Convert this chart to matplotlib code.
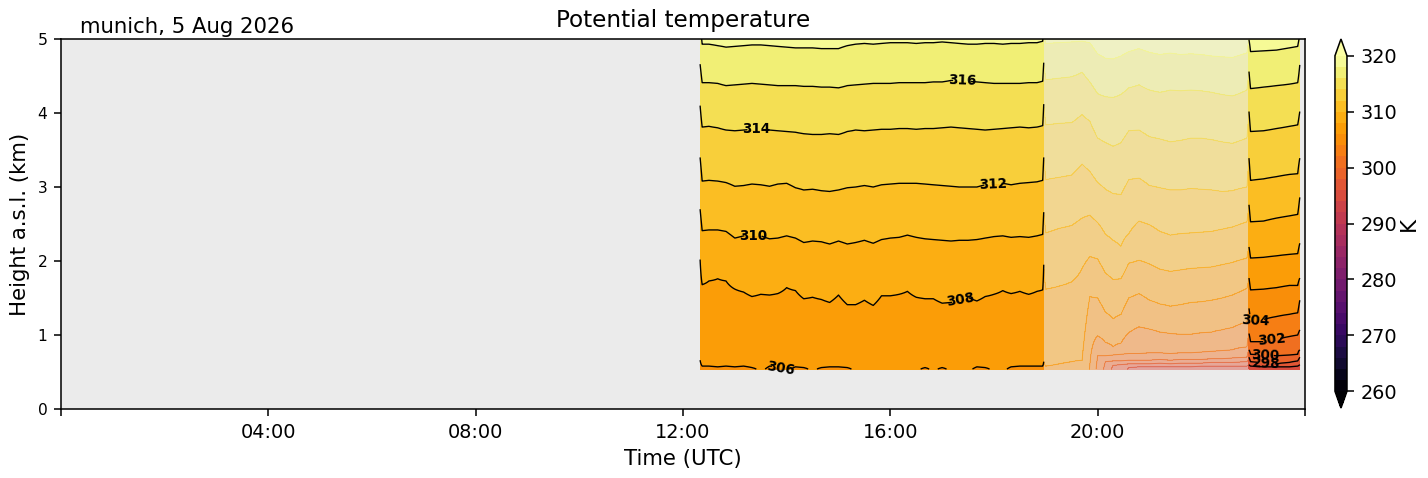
import numpy as np
import matplotlib
matplotlib.use('Agg')
import matplotlib.pyplot as plt

# --- data ----------------------------------------------------------------
# heights (km a.s.l.) of the isentropes, per time column (hours UTC)
# None = isentrope lies below the lowest range gate

z_bottom = 0.54

# daytime segment (good data)
day_times = [12.33, 12.37, 12.50, 12.67, 12.83, 13.00, 13.17, 13.33, 13.50, 13.67,
             13.83, 14.00, 14.17, 14.33, 14.50, 14.67, 14.83, 15.00, 15.17, 15.33,
             15.50, 15.67, 15.83, 16.00, 16.17, 16.33, 16.50, 16.67, 16.83, 17.00,
             17.17, 17.33, 17.50, 17.67, 17.83, 18.00, 18.17, 18.33, 18.50, 18.67,
             18.83, 18.94, 18.96]
day_sfc = [305.9, 305.9, 305.9, 305.9, 305.9, 305.9, 305.9, 305.9, 306.1, 305.9,
           305.9, 306.1, 305.9, 305.9, 306.1, 305.9, 305.9, 305.9, 305.9, 306.1,
           306.1, 306.1, 306.1, 306.1, 306.1, 306.1, 306.1, 305.9, 306.1, 305.9,
           306.1, 306.1, 306.1, 305.9, 305.9, 306.1, 306.1, 305.9, 305.9, 305.9,
           305.9, 305.9, 305.9]
day_h306 = [0.66, 0.58, 0.58, 0.57, 0.58, 0.57, 0.58, 0.56, None, 0.58,
            0.57, None, 0.57, 0.56, None, 0.56, 0.57, 0.57, 0.56, None,
            None, None, None, None, None, None, None, 0.56, None, 0.56,
            None, None, None, 0.57, 0.56, None, None, 0.57, 0.58, 0.58,
            0.58, 0.58, 0.64]
day_h308 = [2.02, 1.68, 1.73, 1.76, 1.73, 1.62, 1.58, 1.52, 1.55, 1.54,
            1.56, 1.64, 1.60, 1.49, 1.51, 1.48, 1.44, 1.54, 1.41, 1.41,
            1.47, 1.40, 1.53, 1.53, 1.55, 1.59, 1.51, 1.49, 1.49, 1.43,
            1.44, 1.47, 1.51, 1.46, 1.52, 1.55, 1.60, 1.56, 1.59, 1.55,
            1.59, 1.61, 1.95]
day_h310 = [2.70, 2.41, 2.42, 2.42, 2.40, 2.31, 2.34, 2.34, 2.34, 2.30,
            2.31, 2.34, 2.31, 2.25, 2.27, 2.26, 2.23, 2.27, 2.23, 2.25,
            2.28, 2.24, 2.29, 2.31, 2.32, 2.35, 2.32, 2.30, 2.29, 2.28,
            2.27, 2.28, 2.28, 2.29, 2.31, 2.33, 2.34, 2.32, 2.33, 2.32,
            2.34, 2.36, 2.66]
day_h312 = [3.40, 3.08, 3.09, 3.08, 3.06, 3.01, 3.02, 3.04, 3.03, 3.01,
            3.04, 3.05, 2.99, 2.96, 2.97, 2.95, 2.94, 2.96, 2.99, 3.00,
            3.02, 3.00, 3.03, 3.04, 3.05, 3.05, 3.05, 3.04, 3.03, 3.02,
            3.01, 3.00, 3.00, 3.00, 3.03, 3.04, 3.05, 3.03, 3.05, 3.06,
            3.07, 3.09, 3.40]
day_h314 = [4.10, 3.81, 3.82, 3.80, 3.77, 3.76, 3.77, 3.78, 3.78, 3.77,
            3.76, 3.75, 3.74, 3.72, 3.71, 3.71, 3.72, 3.71, 3.75, 3.77,
            3.76, 3.77, 3.78, 3.78, 3.79, 3.79, 3.78, 3.79, 3.79, 3.80,
            3.81, 3.80, 3.79, 3.78, 3.77, 3.78, 3.79, 3.80, 3.81, 3.80,
            3.81, 3.83, 4.12]
day_h316 = [4.66, 4.41, 4.41, 4.40, 4.37, 4.38, 4.39, 4.40, 4.39, 4.38,
            4.37, 4.37, 4.37, 4.36, 4.36, 4.35, 4.35, 4.34, 4.37, 4.38,
            4.39, 4.40, 4.40, 4.40, 4.41, 4.41, 4.41, 4.41, 4.42, 4.42,
            4.44, 4.44, 4.43, 4.42, 4.41, 4.40, 4.40, 4.40, 4.40, 4.41,
            4.41, 4.43, 4.68]
day_h318 = [5.20, 4.93, 4.93, 4.91, 4.89, 4.90, 4.91, 4.92, 4.92, 4.91,
            4.90, 4.89, 4.88, 4.88, 4.88, 4.87, 4.87, 4.87, 4.91, 4.93,
            4.94, 4.93, 4.94, 4.95, 4.95, 4.95, 4.94, 4.95, 4.95, 4.96,
            4.95, 4.94, 4.93, 4.93, 4.94, 4.94, 4.93, 4.94, 4.94, 4.95,
            4.95, 4.97, 5.20]
day_h320 = 5.5

# evening segment (flagged data, drawn pale)
eve_times = [19.00, 19.25, 19.50, 19.70, 19.85, 20.00, 20.15, 20.30, 20.45, 20.60,
             20.80, 21.00, 21.20, 21.40, 21.60, 21.80, 22.00, 22.20, 22.40, 22.60,
             22.88]
eve_sfc = [305.95, 305.9, 305.8, 305.6, 303.9, 301.5, 299.5, 297.5, 297.0, 295.8,
           295.5, 295.4, 295.4, 295.4, 295.3, 295.3, 295.3, 295.2, 295.2, 295.2,
           295.2]
eve_h296 = [None, None, None, None, None, None, None, None, None, 0.56,
            0.57, 0.57, 0.57, 0.57, 0.57, 0.57, 0.58, 0.58, 0.58, 0.58,
            0.58]
eve_h298 = [None, None, None, None, None, None, None, 0.59, 0.60, 0.61,
            0.61, 0.61, 0.62, 0.61, 0.62, 0.62, 0.62, 0.63, 0.63, 0.63,
            0.64]
eve_h300 = [None, None, None, None, None, None, 0.64, 0.65, 0.65, 0.66,
            0.66, 0.66, 0.67, 0.66, 0.67, 0.67, 0.67, 0.68, 0.68, 0.69,
            0.70]
eve_h302 = [None, None, None, None, None, 0.72, 0.72, 0.73, 0.74, 0.75,
            0.75, 0.76, 0.76, 0.75, 0.76, 0.76, 0.77, 0.78, 0.79, 0.80,
            0.84]
eve_h304 = [None, None, None, None, 0.60, 0.99, 0.90, 0.84, 0.89, 1.03,
            1.11, 1.08, 1.04, 1.02, 1.01, 1.01, 1.03, 1.04, 1.07, 1.10,
            1.18]
eve_h306 = [0.58, 0.61, 0.64, 0.66, 1.52, 1.50, 1.31, 1.22, 1.28, 1.50,
            1.56, 1.47, 1.42, 1.39, 1.41, 1.44, 1.45, 1.47, 1.50, 1.54,
            1.63]
eve_h308 = [1.62, 1.66, 1.72, 1.90, 2.06, 2.03, 1.84, 1.75, 1.76, 1.97,
            2.01, 1.96, 1.89, 1.86, 1.88, 1.90, 1.91, 1.92, 1.95, 1.98,
            2.04]
eve_h310 = [2.38, 2.44, 2.48, 2.58, 2.62, 2.52, 2.36, 2.28, 2.20, 2.37,
            2.54, 2.49, 2.40, 2.35, 2.37, 2.38, 2.39, 2.40, 2.43, 2.46,
            2.53]
eve_h312 = [3.10, 3.13, 3.16, 3.31, 3.21, 3.06, 2.97, 2.91, 2.90, 3.10,
            3.12, 3.02, 2.99, 2.96, 2.96, 2.98, 2.97, 2.96, 2.94, 2.95,
            3.00]
eve_h314 = [3.84, 3.86, 3.87, 3.98, 3.89, 3.66, 3.60, 3.55, 3.60, 3.76,
            3.77, 3.68, 3.65, 3.61, 3.63, 3.66, 3.66, 3.64, 3.61, 3.59,
            3.66]
eve_h316 = [4.45, 4.47, 4.49, 4.55, 4.42, 4.26, 4.22, 4.21, 4.25, 4.34,
            4.38, 4.31, 4.28, 4.31, 4.30, 4.31, 4.30, 4.28, 4.25, 4.23,
            4.31]
eve_h318 = [4.94, 4.95, 4.96, 4.97, 4.95, 4.80, 4.74, 4.73, 4.77, 4.83,
            4.87, 4.82, 4.79, 4.81, 4.79, 4.80, 4.79, 4.77, 4.76, 4.75,
            4.81]
eve_h320 = 5.3

# late segment (good data)
late_times = [22.92, 22.95, 23.20, 23.45, 23.70, 23.86, 23.90]
late_sfc = [295.0, 295.0, 295.0, 295.0, 295.0, 295.0, 295.0]
late_h296 = [0.60, 0.58, 0.57, 0.57, 0.57, 0.58, 0.60]
late_h298 = [0.70, 0.64, 0.62, 0.61, 0.63, 0.65, 0.70]
late_h300 = [0.80, 0.74, 0.73, 0.72, 0.73, 0.74, 0.80]
late_h302 = [1.02, 0.91, 0.91, 0.94, 0.98, 1.00, 1.07]
late_h304 = [1.36, 1.19, 1.21, 1.25, 1.28, 1.30, 1.47]
late_h306 = [1.77, 1.61, 1.62, 1.64, 1.67, 1.67, 1.77]
late_h308 = [2.19, 2.04, 2.05, 2.07, 2.09, 2.10, 2.24]
late_h310 = [2.76, 2.53, 2.54, 2.58, 2.61, 2.63, 2.86]
late_h312 = [3.39, 3.09, 3.11, 3.14, 3.17, 3.18, 3.39]
late_h314 = [4.02, 3.75, 3.76, 3.79, 3.82, 3.84, 4.02]
late_h316 = [4.56, 4.33, 4.35, 4.37, 4.39, 4.41, 4.65]
late_h318 = [4.99, 4.83, 4.84, 4.85, 4.88, 4.90, 5.05]
late_h320 = 5.35

# contour label spots (hour, km)
label_spots = [(17.38, 4.45), (13.41, 3.82), (17.98, 3.05), (13.35, 2.35),
               (17.35, 1.50), (13.89, 0.60), (23.04, 1.28), (23.36, 0.93),
               (23.23, 0.73), (23.25, 0.62)]

# --- build the gridded field ----------------------------------------------
day = (day_times, day_sfc, day_h320,
       {306: day_h306, 308: day_h308, 310: day_h310, 312: day_h312,
        314: day_h314, 316: day_h316, 318: day_h318})
eve = (eve_times, eve_sfc, eve_h320,
       {296: eve_h296, 298: eve_h298, 300: eve_h300, 302: eve_h302,
        304: eve_h304, 306: eve_h306, 308: eve_h308, 310: eve_h310,
        312: eve_h312, 314: eve_h314, 316: eve_h316, 318: eve_h318})
late = (late_times, late_sfc, late_h320,
        {296: late_h296, 298: late_h298, 300: late_h300, 302: late_h302,
         304: late_h304, 306: late_h306, 308: late_h308, 310: late_h310,
         312: late_h312, 314: late_h314, 316: late_h316, 318: late_h318})

z = np.linspace(z_bottom, 5.0, 447)


def columns(seg):
    times, sfc, h320, isen = seg
    out = []
    for i in range(len(times)):
        xp, fp = [z_bottom], [sfc[i]]
        for lev in sorted(isen):
            h = isen[lev][i]
            if h is not None:
                xp.append(h)
                fp.append(lev)
        xp.append(h320)
        fp.append(320)
        out.append(np.interp(z, xp, fp))
    return out


cols = columns(day) + columns(eve) + columns(late)
t = np.array(day_times + eve_times + late_times)
theta = np.array(cols).T

n_day, n_eve = len(day_times), len(eve_times)
good = np.ones(len(t), bool)
good[n_day:n_day + n_eve] = False
pale = ~good
pale[n_day - 1] = True
pale[n_day + n_eve] = True

theta_good = np.ma.masked_where(np.broadcast_to(~good, theta.shape), theta)
theta_pale = np.ma.masked_where(np.broadcast_to(~pale, theta.shape), theta)

levels = np.arange(260, 321, 2)

# --- plot -------------------------------------------------------------------
dpi = 139
fig = plt.figure(figsize=(1429 / dpi, 478 / dpi), dpi=dpi)
ax = fig.add_axes([0.0427, 0.1443, 0.8705, 0.7741])
ax.set_facecolor('#ebebeb')

cf = ax.contourf(t, z, theta_good, levels=levels, cmap='inferno', extend='both')
ax.contourf(t, z, theta_pale, levels=levels, cmap='inferno', extend='both', alpha=0.45)
ax.contour(t, z, theta_pale, levels=levels, cmap='inferno', linewidths=0.5, alpha=0.45)

cs = ax.contour(t, z, theta_good, levels=levels, colors='k', linewidths=0.7)
labels = ax.clabel(cs, fmt='%d', fontsize=7, manual=label_spots, inline=True)
for lab in labels:
    lab.set_fontweight('bold')

ax.set_xlim(0, 24)
ax.set_ylim(0, 5)
ax.set_xticks(range(0, 25, 4))
ax.set_xticklabels(['', '04:00', '08:00', '12:00', '16:00', '20:00', ''], fontsize=10)
ax.set_yticks(range(0, 6))
ax.tick_params(axis='y', labelsize=8)
ax.set_xlabel('Time (UTC)', fontsize=11)
ax.set_ylabel('Height a.s.l. (km)', fontsize=11)
ax.set_title('Potential temperature', fontsize=12)
ax.text(0.015, 1.005, 'munich, 5 Aug 2026', transform=ax.transAxes,
        fontsize=11, ha='left', va='bottom')

cax = fig.add_axes([0.9342, 0.1464, 0.0084, 0.772])
cbar = fig.colorbar(cf, cax=cax, ticks=range(260, 321, 10))
cbar.ax.tick_params(labelsize=10)
cbar.set_label('K', fontsize=11, labelpad=1)

fig.savefig('out.png', dpi=dpi)
